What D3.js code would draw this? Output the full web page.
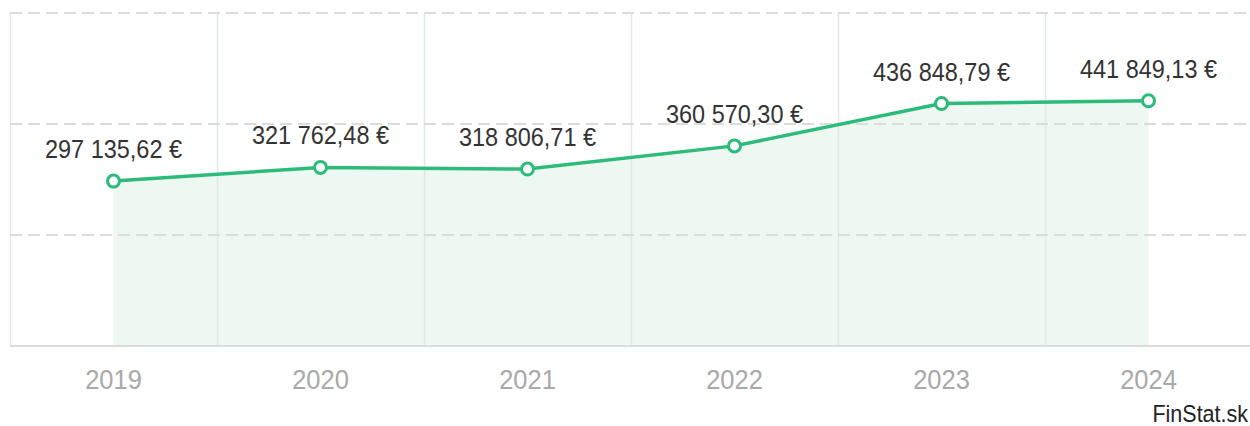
<!DOCTYPE html>
<html>
<head>
<meta charset="utf-8">
<script src="https://cdn.jsdelivr.net/npm/d3@7"></script>
<style>
body { margin: 0; background: #fff; }
svg { display: block; font-family: "Liberation Sans", Arial, sans-serif; }
</style>
</head>
<body>
<script>
let width = 1250;
let height = 426;

let years = ["2019", "2020", "2021", "2022", "2023", "2024"];
let values = [297135.62, 321762.48, 318806.71, 360570.30, 436848.79, 441849.13];
let labels = ["297 135,62 €", "321 762,48 €", "318 806,71 €", "360 570,30 €", "436 848,79 €", "441 849,13 €"];
let yTicks = [200000, 400000, 600000];

let plotLeft = 10, plotRight = 1252, plotTop = 13, plotBottom = 346;
let stretch = 1.1; // text in the picture is a bit taller than wide

let svg = d3.select("body")
    .append("svg")
    .attr("width", width)
    .attr("height", height);

let x = d3.scaleBand().domain(years).range([plotLeft, plotRight]);
let y = d3.scaleLinear().domain([0, 600000]).range([plotBottom, plotTop]);

let data = years.map(function(yr, i) {
    return { year: yr, value: values[i], label: labels[i] };
});
let cx = function(d) { return x(d.year) + x.bandwidth() / 2; };

// area fill
let area = d3.area()
    .x(cx)
    .y0(y(0))
    .y1(function(d) { return y(d.value); });

svg.append("path")
    .datum(data)
    .attr("fill", "#eef8f3")
    .attr("d", area);

// vertical grid (band edges)
svg.append("g")
    .selectAll("line")
    .data(years)
    .enter().append("line")
        .attr("x1", function(d) { return Math.round(x(d)) + 0.5; })
        .attr("x2", function(d) { return Math.round(x(d)) + 0.5; })
        .attr("y1", plotTop)
        .attr("y2", plotBottom)
        .attr("stroke", "#dfe9ea")
        .attr("stroke-width", 1.5);

// horizontal dashed grid
svg.append("g")
    .selectAll("line")
    .data(yTicks)
    .enter().append("line")
        .attr("x1", plotLeft)
        .attr("x2", width)
        .attr("y1", function(d) { return y(d); })
        .attr("y2", function(d) { return y(d); })
        .attr("stroke", "#dcdcdc")
        .attr("stroke-width", 2)
        .attr("stroke-dasharray", "12,6");

// baseline
svg.append("line")
    .attr("x1", plotLeft)
    .attr("x2", width)
    .attr("y1", plotBottom)
    .attr("y2", plotBottom)
    .attr("stroke", "#dcdcdc")
    .attr("stroke-width", 2);

// x axis labels
let xAxis = d3.axisBottom(x).tickSize(0).tickPadding(0);
let gx = svg.append("g")
    .attr("transform", "translate(0," + plotBottom + ")")
    .call(xAxis);
gx.select(".domain").remove();
gx.selectAll("text")
    .attr("dy", null)
    .attr("y", 0)
    .attr("transform", "translate(0,43) scale(1," + stretch + ")")
    .attr("fill", "#a9a9a9")
    .attr("font-size", "25.5px")
    .attr("font-family", "Liberation Sans, Arial, sans-serif");

// line
let line = d3.line()
    .x(cx)
    .y(function(d) { return y(d.value); });

svg.append("path")
    .datum(data)
    .attr("fill", "none")
    .attr("stroke", "#2dbb7a")
    .attr("stroke-width", 3.5)
    .attr("d", line);

svg.append("g")
    .selectAll("circle")
    .data(data)
    .enter().append("circle")
        .attr("cx", cx)
        .attr("cy", function(d) { return y(d.value); })
        .attr("r", 6)
        .attr("fill", "#fff")
        .attr("stroke", "#2dbb7a")
        .attr("stroke-width", 3);

// value labels
svg.append("g")
    .selectAll("text")
    .data(data)
    .enter().append("text")
        .attr("transform", function(d) {
            return "translate(" + cx(d) + "," + (y(d.value) - 23) + ") scale(1," + stretch + ")";
        })
        .attr("text-anchor", "middle")
        .attr("fill", "#333")
        .attr("font-size", "23.5px")
        .text(function(d) { return d.label; });

// credit
svg.append("text")
    .attr("transform", "translate(1248,422) scale(1," + stretch + ")")
    .attr("text-anchor", "end")
    .attr("fill", "#222")
    .attr("font-size", "21.5px")
    .text("FinStat.sk");
</script>
</body>
</html>
